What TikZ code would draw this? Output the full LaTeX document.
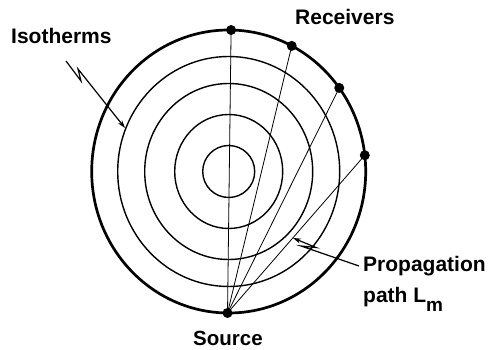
\documentclass[tikz,border=0pt]{standalone}
\usepackage{fontspec}
\setmainfont{Liberation Sans}
\usetikzlibrary{arrows.meta,calc}
\begin{document}
\begin{tikzpicture}[x=1pt,y=1pt,
  iso/.style={line width=1.4pt},
  outer/.style={line width=2.7pt},
  ray/.style={line width=0.8pt},
  dot/.style={circle,fill=black,inner sep=0pt,minimum size=10pt},
  lbl/.style={inner sep=0pt,font=\fontsize{21}{24}\selectfont\bfseries},
  leader/.style={line width=1.2pt,-{Stealth[length=8pt,width=5pt]}}]
\useasboundingbox (0,0) rectangle (489,350);
\coordinate (c) at (228.7,178.5);
% isotherms
\draw[iso] (c) ellipse [x radius=26pt,y radius=26pt];
\draw[iso] (c) ellipse [x radius=54pt,y radius=57pt];
\draw[iso] (c) ellipse [x radius=84pt,y radius=88pt];
\draw[iso] (c) ellipse [x radius=111pt,y radius=115pt];
\draw[outer] (c) ellipse [x radius=137pt,y radius=141.5pt];
% source and receivers
\coordinate (s) at ($(c)+(269.5:137pt and 141.5pt)$);
\coordinate (r1) at ($(c)+(89:137pt and 141.5pt)$);
\coordinate (r2) at ($(c)+(62.6:137pt and 141.5pt)$);
\coordinate (r3) at ($(c)+(36.2:137pt and 141.5pt)$);
\coordinate (r4) at ($(c)+(6.6:137pt and 141.5pt)$);
\foreach \r in {r1,r2,r3,r4} \draw[ray] (s) -- (\r);
\node[dot] (S) at (s) {};
\node[dot] (R1) at (r1) {};
\node[dot] (R2) at (r2) {};
\node[dot] (R3) at (r3) {};
\node[dot] (R4) at (r4) {};
% labels
\node[lbl,anchor=base west] (isol) at (11,306) {Isotherms};
\node[lbl,anchor=base west] (recl) at (295,325) {Receivers};
\node[lbl,anchor=base west,font=\fontsize{20.5}{24}\selectfont\bfseries] (srcl) at (193,5) {Source};
\node[lbl,anchor=base west] (propl) at (363,78) {Propagation};
\node[lbl,anchor=base west] (pathl) at (363,47) {path L\raisebox{-9pt}{\fontsize{19}{19}\selectfont m}};
% leaders
\coordinate (ia) at (66,289);
\coordinate (ib) at (81,269);
\coordinate (ic) at (78,281);
\coordinate (id) at (125,222);
\draw[leader] (ia) -- (ib) -- (ic) -- (id);
\coordinate (pa) at (359,84);
\coordinate (pb) at (301,104);
\coordinate (pc) at (316,102.5);
\coordinate (pd) at (293,112);
\draw[leader] (pa) -- (pb) -- (pc) -- (pd);
\end{tikzpicture}
\end{document}
